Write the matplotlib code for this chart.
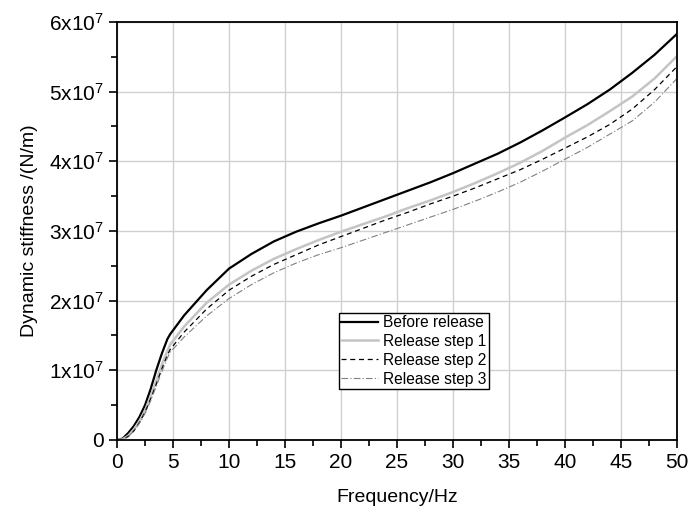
import numpy as np
import matplotlib.pyplot as plt
from matplotlib.ticker import MultipleLocator, FuncFormatter

plt.rcParams['font.family'] = ['Liberation Sans', 'DejaVu Sans']
plt.rcParams['mathtext.fontset'] = 'custom'
plt.rcParams['mathtext.rm'] = 'Liberation Sans'

# frequency (Hz)
freq = [0, 0.5, 1, 1.5, 2, 2.5, 3, 3.5, 4, 4.5, 4.75, 6, 8, 10, 12, 14, 16, 18, 20,
        22, 24, 26, 28, 30, 32, 34, 36, 38, 40, 42, 44, 46, 48, 50]
# dynamic stiffness (x1e7 N/m)
k_before = [0, 0.02, 0.1, 0.2, 0.33, 0.5, 0.73, 1.0, 1.24, 1.45, 1.52, 1.79, 2.15, 2.46, 2.67,
            2.85, 2.99, 3.11, 3.22, 3.34, 3.46, 3.58, 3.7, 3.83, 3.97, 4.11, 4.27, 4.445, 4.63,
            4.82, 5.03, 5.27, 5.53, 5.83]
k_step1 = [0, 0.01, 0.06, 0.15, 0.27, 0.42, 0.62, 0.85, 1.08, 1.28, 1.37, 1.63, 1.97, 2.23, 2.43,
           2.6, 2.74, 2.87, 2.99, 3.1, 3.21, 3.33, 3.44, 3.56, 3.69, 3.83, 3.98, 4.15, 4.34,
           4.52, 4.72, 4.93, 5.19, 5.51]
k_step2 = [0, 0.01, 0.05, 0.13, 0.25, 0.4, 0.59, 0.8, 1.02, 1.22, 1.3, 1.55, 1.88, 2.15, 2.35,
           2.52, 2.66, 2.8, 2.92, 3.04, 3.16, 3.27, 3.39, 3.5, 3.62, 3.75, 3.88, 4.03, 4.19,
           4.35, 4.53, 4.75, 5.03, 5.36]
k_step3 = [0, 0.01, 0.05, 0.13, 0.24, 0.38, 0.56, 0.77, 0.98, 1.18, 1.26, 1.48, 1.78, 2.03, 2.23,
           2.4, 2.54, 2.66, 2.76, 2.87, 2.98, 3.09, 3.2, 3.31, 3.43, 3.56, 3.7, 3.86, 4.03,
           4.2, 4.39, 4.58, 4.85, 5.19]

fig = plt.figure(figsize=(6.9, 5.16), dpi=100)
ax = fig.add_axes([0.1696, 0.1473, 0.8116, 0.8101])

ax.plot(freq, np.array(k_before) * 1e7, '-', color='black', lw=1.6, label='Before release')
ax.plot(freq, np.array(k_step1) * 1e7, '-', color='#c4c4c4', lw=1.8, label='Release step 1')
ax.plot(freq, np.array(k_step2) * 1e7, '--', color='black', lw=0.9, dashes=(4, 3),
        label='Release step 2')
ax.plot(freq, np.array(k_step3) * 1e7, '-.', color='#808080', lw=0.8,
        dashes=(6, 2, 1, 2), label='Release step 3')

ax.set_xlim(0, 50)
ax.set_ylim(0, 6e7)
ax.xaxis.set_major_locator(MultipleLocator(5))
ax.xaxis.set_minor_locator(MultipleLocator(2.5))
ax.yaxis.set_major_locator(MultipleLocator(1e7))
ax.yaxis.set_minor_locator(MultipleLocator(0.5e7))


def yfmt(v, pos):
    n = int(round(v / 1e7))
    if n == 0:
        return '0'
    return r'$\mathregular{%dx10^{7}}$' % n


ax.yaxis.set_major_formatter(FuncFormatter(yfmt))
ax.grid(True, which='major', color='#d0d0d0', lw=1)
ax.set_axisbelow(True)
ax.tick_params(which='both', direction='out', top=False, right=False, labelsize=15, width=1.2)
ax.tick_params(which='major', length=6)
ax.tick_params(which='minor', length=4)
for s in ax.spines.values():
    s.set_linewidth(1.3)

ax.set_xlabel('Frequency/Hz', fontsize=14, labelpad=12)
ax.set_ylabel('Dynamic stiffness /(N/m)', fontsize=14, labelpad=8)

leg = ax.legend(loc='lower left', bbox_to_anchor=(0.396, 0.122), fontsize=11.2,
                fancybox=False, framealpha=1, edgecolor='black', borderpad=0.15,
                labelspacing=0.25, handlelength=2.4, handletextpad=0.3, borderaxespad=0)
leg.get_frame().set_linewidth(1)

fig.savefig('out.png', dpi=100)
